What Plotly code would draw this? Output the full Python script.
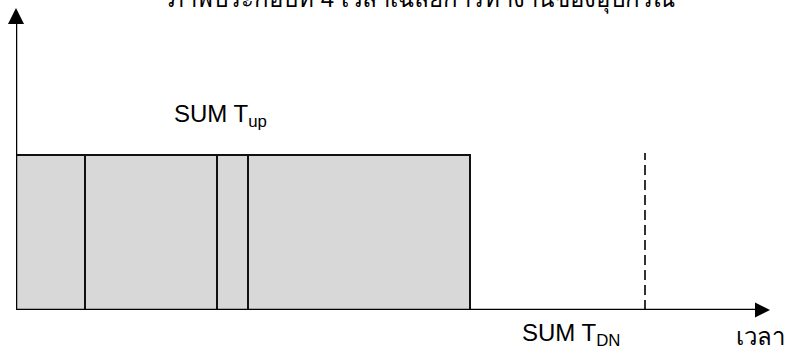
import plotly.graph_objects as go
import numpy as np

# ---- data (arbitrary time units) ----
up_durations = [69, 132, 31, 222]      # successive "up" intervals
up_level = [155, 155, 155, 155]        # height of each up block
dn_marker_time = 629                   # dashed marker time
dn_marker_height = 157
title_text = "ภาพประกอบที่ 4 เวลาเฉลี่ยการทำงานของอุปกรณ์"
label_up = "SUM T<sub>up</sub>"
label_dn = "SUM T<sub>DN</sub>"
x_label = "เวลา"

starts = np.concatenate([[0], np.cumsum(up_durations)[:-1]])
centers = starts + np.array(up_durations) / 2

FONT = "Liberation Sans, Arial, sans-serif"
PLOT_H = 310

fig = go.Figure()

fig.add_trace(go.Bar(
    x=centers, y=up_level, width=up_durations, base=0,
    marker=dict(color="#d8d8d8", line=dict(color="#111111", width=2)),
    showlegend=False, hoverinfo="skip",
))

# dashed marker
fig.add_trace(go.Scatter(
    x=[dn_marker_time, dn_marker_time], y=[0, dn_marker_height],
    mode="lines", line=dict(color="black", width=1.6, dash="10px,5px"),
    showlegend=False, hoverinfo="skip",
))

# axes with arrowheads
x_end, y_end = 754, 302
fig.add_trace(go.Scatter(
    x=[0, x_end - 10], y=[0, 0], mode="lines",
    line=dict(color="black", width=2.5), showlegend=False, hoverinfo="skip",
    cliponaxis=False,
))
fig.add_trace(go.Scatter(
    x=[0, 0], y=[0, y_end - 10], mode="lines",
    line=dict(color="black", width=2.5), showlegend=False, hoverinfo="skip",
    cliponaxis=False,
))
fig.add_trace(go.Scatter(
    x=[x_end], y=[0], mode="markers",
    marker=dict(symbol="arrow-right", size=15, color="black", line=dict(width=0)),
    showlegend=False, hoverinfo="skip", cliponaxis=False,
))
fig.add_trace(go.Scatter(
    x=[0], y=[y_end], mode="markers",
    marker=dict(symbol="arrow-up", size=16, color="black", line=dict(width=0)),
    showlegend=False, hoverinfo="skip", cliponaxis=False,
))

fig.add_annotation(x=204, y=195, xref="x", yref="y", text=label_up,
                   xanchor="center", yanchor="middle",
                   showarrow=False, font=dict(family=FONT, size=24, color="black"))
fig.add_annotation(x=555, y=-24 / PLOT_H, xref="x", yref="paper", text=label_dn,
                   xanchor="center", yanchor="middle",
                   showarrow=False, font=dict(family=FONT, size=24, color="black"))
fig.add_annotation(x=744, y=-26 / PLOT_H, xref="x", yref="paper", text=x_label,
                   xanchor="center", yanchor="middle",
                   showarrow=False, font=dict(family=FONT, size=24, color="black"))
fig.add_annotation(x=405, y=1 - 16 / PLOT_H, xref="x", yref="paper", yanchor="bottom",
                   xanchor="center",
                   text=title_text, showarrow=False,
                   font=dict(family=FONT, size=24, color="black"))

fig.update_layout(
    width=790, height=353,
    margin=dict(l=16, r=0, t=0, b=43),
    plot_bgcolor="white", paper_bgcolor="white",
    bargap=0,
    xaxis=dict(range=[0, 774], visible=False, fixedrange=True),
    yaxis=dict(range=[0, PLOT_H], visible=False, fixedrange=True),
)

fig.write_html(
    "out.html",
    config={"displayModeBar": False},
    post_script="document.body.style.margin='0';document.body.style.overflow='hidden';",
)
